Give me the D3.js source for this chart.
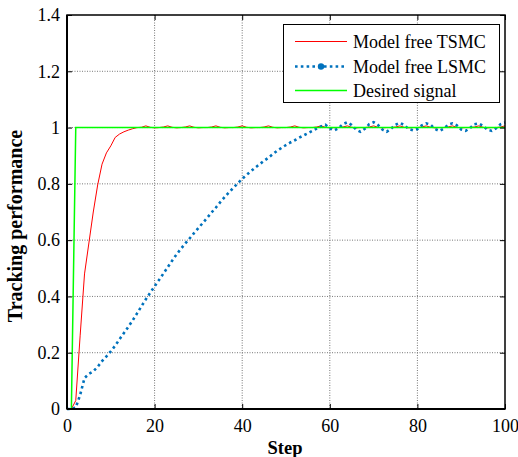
<!DOCTYPE html>
<html><head><meta charset="utf-8">
<script src="https://cdn.jsdelivr.net/npm/d3@7/dist/d3.min.js"></script>
<style>body{margin:0;background:#fff}svg{display:block}</style>
</head><body><div id="c"></div>
<script>
const steps = d3.range(0, 101);
const tsmc = [0,0,0.03,0.26,0.48,0.59,0.70,0.796,0.87,0.91,0.935,0.965,0.977,0.985,0.991,0.996,1.0,1.001,1.006,1.001,
0.999,1.0,1.002,1.006,1.001,0.999,1.0,1.002,1.006,1.001,0.999,1.0,1.0,1.002,1.006,1.001,0.999,1.0,1.0,1.002,
1.006,1.001,0.999,1.0,1.0,1.002,1.006,1.001,0.999,1.0,1.0,1.002,1.006,1.001,0.999,1.0,1.0,1.002,1.006,1.001,
0.999,1.0,1.0,1.002,1.006,1.001,0.999,1.0,1.0,1.002,1.006,1.001,0.999,1.0,1.0,1.002,1.006,1.001,0.999,1.0,
1.0,1.002,1.006,1.001,0.999,1.0,1.0,1.002,1.006,1.001,0.999,1.0,1.0,1.002,1.006,1.001,0.999,1.0,1.0,1.002,1.006];
const lsmc = [0,0,0.005,0.05,0.11,0.125,0.134,0.15,0.17,0.187,0.205,0.225,0.248,0.27,0.292,0.315,0.34,0.365,0.39,0.413,
0.436,0.458,0.481,0.504,0.527,0.549,0.569,0.588,0.606,0.625,0.643,0.661,0.679,0.698,0.716,0.735,0.753,0.770,0.786,0.802,
0.818,0.832,0.845,0.858,0.870,0.882,0.893,0.906,0.918,0.928,0.938,0.947,0.955,0.964,0.972,0.980,0.988,0.996,1.004,1.01,
0.997,0.99,0.998,1.012,1.019,1.009,0.993,0.985,0.996,1.012,1.019,1.009,0.993,0.985,0.996,1.01,1.017,1.009,0.995,0.99,
0.995,1.008,1.015,1.01,0.995,0.988,0.996,1.01,1.015,1.008,0.993,0.988,0.998,1.012,1.015,1.006,0.992,0.988,0.998,1.012,1.018];
const desiredX = [0,1,2,100];
const desiredY = [0,0,1,1];
const xTicks = [0,20,40,60,80,100];
const yTicks = [0,0.2,0.4,0.6,0.8,1,1.2,1.4];
const legendLabels = ["Model free TSMC","Model free LSMC","Desired signal"];

const W=518,H=457;
const L=67,R=505,T=15,B=409;
const svg=d3.select("#c").append("svg").attr("width",W).attr("height",H);
const x=d3.scaleLinear().domain([0,100]).range([L,R]);
const y=d3.scaleLinear().domain([0,1.4]).range([B,T]);
const font="'Liberation Serif','Times New Roman',serif";

// grid
const g=svg.append("g");
g.selectAll(".vg").data(xTicks.slice(1,-1)).enter().append("line")
 .attr("x1",d=>x(d)).attr("x2",d=>x(d)).attr("y1",T).attr("y2",B)
 .attr("stroke","#777").attr("stroke-width",1).attr("stroke-dasharray","1,1.5");
g.selectAll(".hg").data(yTicks.slice(1,-1)).enter().append("line")
 .attr("y1",d=>y(d)).attr("y2",d=>y(d)).attr("x1",L).attr("x2",R)
 .attr("stroke","#777").attr("stroke-width",1).attr("stroke-dasharray","1,1.5");

// data lines
const ln=d3.line().x(d=>x(d[0])).y(d=>y(d[1]));
svg.append("path").datum(steps.map((s,i)=>[s,tsmc[i]])).attr("d",ln)
 .attr("fill","none").attr("stroke","#ff0000").attr("stroke-width",1);
svg.append("path").datum(steps.map((s,i)=>[s,lsmc[i]])).attr("d",ln)
 .attr("fill","none").attr("stroke","#0072bd").attr("stroke-width",2.6).attr("stroke-dasharray","2.6,3.2");
svg.append("path").datum(desiredX.map((s,i)=>[s,desiredY[i]])).attr("d",ln)
 .attr("fill","none").attr("stroke","#00ff00").attr("stroke-width",1.5);

// axes
const ax=svg.append("g").attr("font-family",font);
const xb=d3.axisBottom(x).tickValues(xTicks).tickSizeInner(-5).tickSizeOuter(0).tickPadding(10);
ax.append("g").attr("transform",`translate(0,${B})`).call(xb);
const yl=d3.axisLeft(y).tickValues(yTicks).tickFormat(d3.format("")).tickSizeInner(-5).tickSizeOuter(0).tickPadding(7);
ax.append("g").attr("transform",`translate(${L},0)`).call(yl);
const xt=d3.axisTop(x).tickValues(xTicks).tickFormat("").tickSizeInner(-5).tickSizeOuter(0);
ax.append("g").attr("transform",`translate(0,${T})`).call(xt);
const yr=d3.axisRight(y).tickValues(yTicks).tickFormat("").tickSizeInner(-5).tickSizeOuter(0);
ax.append("g").attr("transform",`translate(${R},0)`).call(yr);
ax.selectAll(".domain").remove();
ax.selectAll(".tick line").attr("stroke","#000").attr("stroke-width",1);
ax.selectAll(".tick text").attr("font-size","18px").attr("fill","#000").attr("font-family",font);
svg.append("rect").attr("x",L).attr("y",T).attr("width",R-L).attr("height",B-T)
 .attr("fill","none").attr("stroke","#000").attr("stroke-width",1.5);
svg.append("line").attr("x1",L).attr("x2",L).attr("y1",T).attr("y2",B).attr("stroke","#000").attr("stroke-width",2);
svg.append("line").attr("x1",L).attr("x2",R).attr("y1",B).attr("y2",B).attr("stroke","#000").attr("stroke-width",2);

// labels
svg.append("text").attr("x",285).attr("y",454).attr("text-anchor","middle")
 .attr("font-family",font).attr("font-weight","bold").attr("font-size","18.5px").text("Step");
svg.append("text").attr("transform","translate(22,226) rotate(-90)").attr("text-anchor","middle")
 .attr("font-family",font).attr("font-weight","bold").attr("font-size","20px").text("Tracking performance");

// legend
const lg=svg.append("g");
lg.append("rect").attr("x",283.5).attr("y",24.5).attr("width",216).attr("height",78)
 .attr("fill","#fff").attr("stroke","#000").attr("stroke-width",1);
const rows=[41.5,66.5,90.5];
lg.append("line").attr("x1",295).attr("x2",347).attr("y1",rows[0]).attr("y2",rows[0]).attr("stroke","#ff0000").attr("stroke-width",1);
lg.append("line").attr("x1",295).attr("x2",347).attr("y1",rows[1]).attr("y2",rows[1]).attr("stroke","#0072bd").attr("stroke-width",2.6).attr("stroke-dasharray","2.6,3.2");
lg.append("circle").attr("cx",321).attr("cy",rows[1]).attr("r",3.2).attr("fill","#0072bd");
lg.append("line").attr("x1",295).attr("x2",347).attr("y1",rows[2]).attr("y2",rows[2]).attr("stroke","#00ff00").attr("stroke-width",1.5);
lg.selectAll(".lt").data(legendLabels).enter().append("text")
 .attr("x",353).attr("y",(d,i)=>rows[i]+6).attr("font-family",font).attr("font-size","18px").text(d=>d);
</script></body></html>
